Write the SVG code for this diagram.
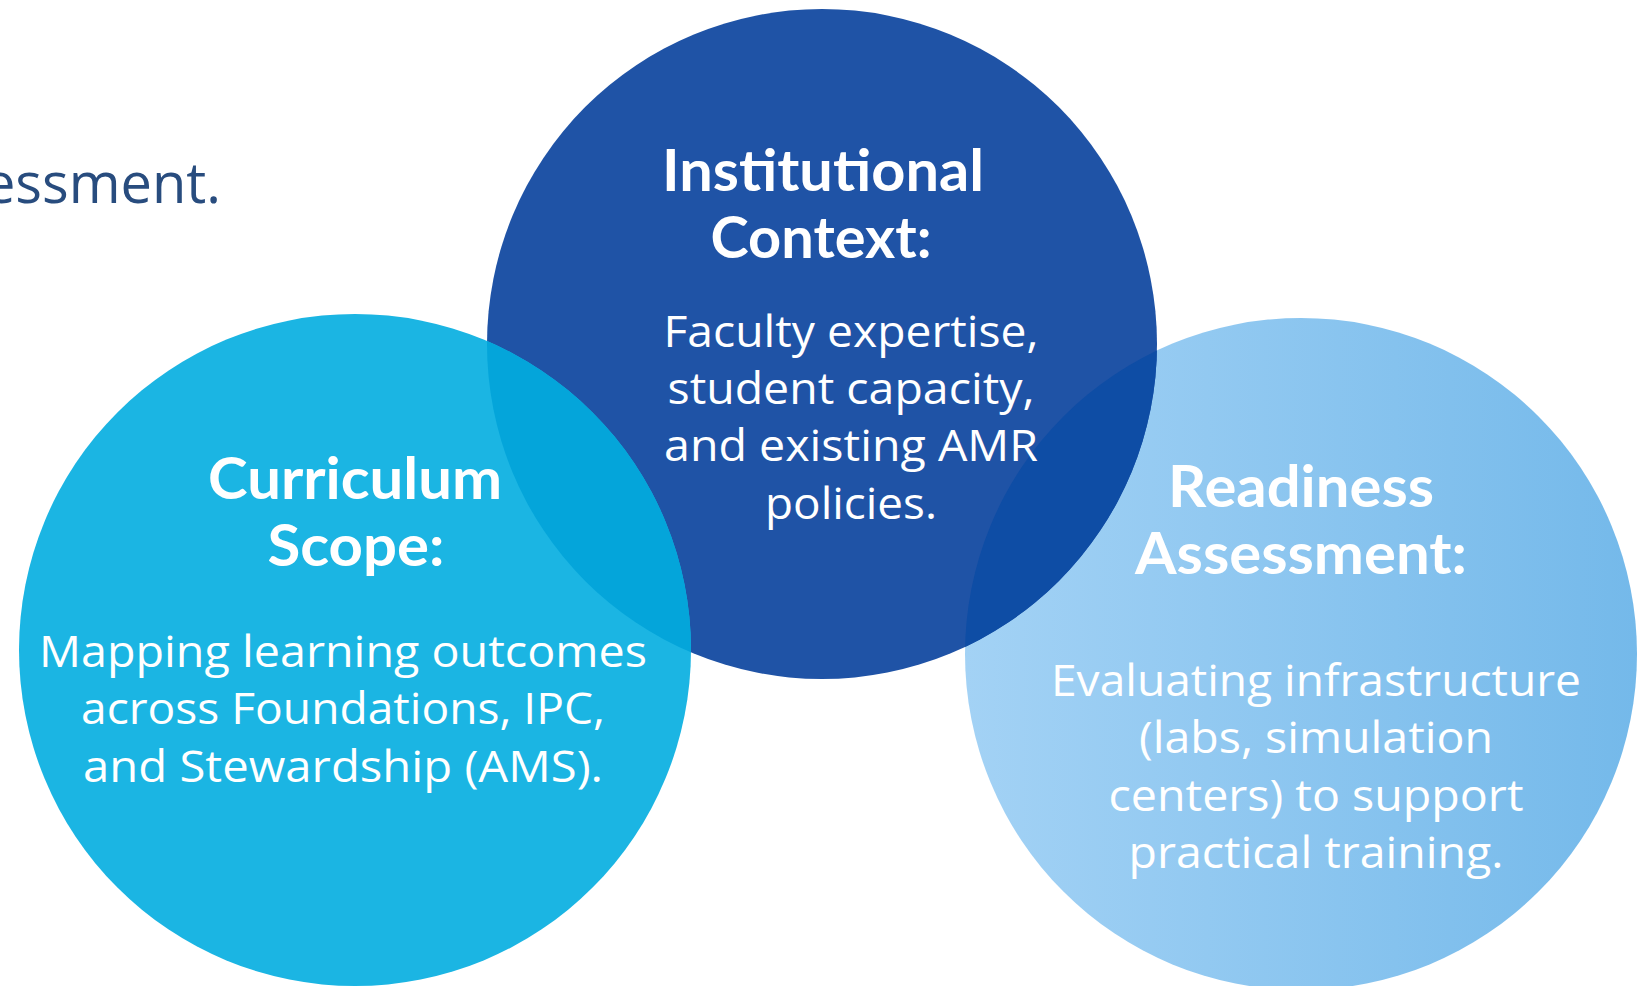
<svg xmlns="http://www.w3.org/2000/svg" width="1642" height="986" viewBox="0 0 1642 986">
  <defs>
    <linearGradient id="gradReadiness" x1="0" y1="0" x2="1" y2="0">
      <stop offset="0" stop-color="#A3D2F5"/>
      <stop offset="1" stop-color="#74B9EA"/>
    </linearGradient>
    <clipPath id="clipReadiness">
      <circle cx="1301" cy="654" r="336"/>
    </clipPath>
    <clipPath id="clipInstitutional">
      <circle cx="822" cy="344" r="335"/>
    </clipPath>
    <style>
      .head { font-family: "Lato", "Open Sans", "Liberation Sans", sans-serif; font-weight: 700; font-size: 57px; fill: #FFFFFF; text-anchor: middle; }
      .body { font-family: "Open Sans", "Liberation Sans", sans-serif; font-weight: 400; font-size: 44.5px; fill: #FFFFFF; text-anchor: middle; }
      .lead { font-family: "Open Sans", "Liberation Sans", sans-serif; font-weight: 400; font-size: 56px; fill: #284C7E; text-anchor: end; }
    </style>
  </defs>

  <rect width="1642" height="986" fill="#FFFFFF"/>

  <!-- tail of the preceding sentence, running in from the left edge -->
  <text class="lead" x="221" y="203">essment.</text>

  <!-- Readiness Assessment -->
  <g id="node-readiness">
    <circle cx="1301" cy="654" r="336" fill="url(#gradReadiness)"/>
    <text class="head" x="1301" y="507" textLength="266" lengthAdjust="spacingAndGlyphs">Readiness</text>
    <text class="head" x="1301" y="574" textLength="332" lengthAdjust="spacingAndGlyphs">Assessment:</text>
    <text class="body" x="1316" y="696" textLength="530" lengthAdjust="spacingAndGlyphs">Evaluating infrastructure</text>
    <text class="body" x="1316" y="753" textLength="354" lengthAdjust="spacingAndGlyphs">(labs, simulation</text>
    <text class="body" x="1316" y="811" textLength="415" lengthAdjust="spacingAndGlyphs">centers) to support</text>
    <text class="body" x="1316" y="868" textLength="375" lengthAdjust="spacingAndGlyphs">practical training.</text>
  </g>

  <!-- Institutional Context -->
  <g id="node-institutional">
    <circle cx="822" cy="344" r="335" fill="#1F53A6"/>
    <!-- darker lens where it overlaps Readiness -->
    <circle cx="822" cy="344" r="335" fill="#0E4DA5" clip-path="url(#clipReadiness)"/>
    <text class="head" x="823" y="191" textLength="322" lengthAdjust="spacingAndGlyphs">Institutional</text>
    <text class="head" x="821" y="258" textLength="221" lengthAdjust="spacingAndGlyphs">Context:</text>
    <text class="body" x="851" y="347" textLength="375" lengthAdjust="spacingAndGlyphs">Faculty expertise,</text>
    <text class="body" x="851" y="404" textLength="367" lengthAdjust="spacingAndGlyphs">student capacity,</text>
    <text class="body" x="851" y="461" textLength="374" lengthAdjust="spacingAndGlyphs">and existing AMR</text>
    <text class="body" x="851" y="519" textLength="172" lengthAdjust="spacingAndGlyphs">policies.</text>
  </g>

  <!-- Curriculum Scope -->
  <g id="node-curriculum">
    <circle cx="355" cy="650" r="336" fill="#1BB5E3"/>
    <!-- lens where it overlaps Institutional Context -->
    <circle cx="355" cy="650" r="336" fill="#04A5DA" clip-path="url(#clipInstitutional)"/>
    <text class="head" x="355" y="499" textLength="294" lengthAdjust="spacingAndGlyphs">Curriculum</text>
    <text class="head" x="356" y="566" textLength="177" lengthAdjust="spacingAndGlyphs">Scope:</text>
    <text class="body" x="343" y="667" textLength="608" lengthAdjust="spacingAndGlyphs">Mapping learning outcomes</text>
    <text class="body" x="343" y="724" textLength="524" lengthAdjust="spacingAndGlyphs">across Foundations, IPC,</text>
    <text class="body" x="343" y="782" textLength="520" lengthAdjust="spacingAndGlyphs">and Stewardship (AMS).</text>
  </g>
</svg>
